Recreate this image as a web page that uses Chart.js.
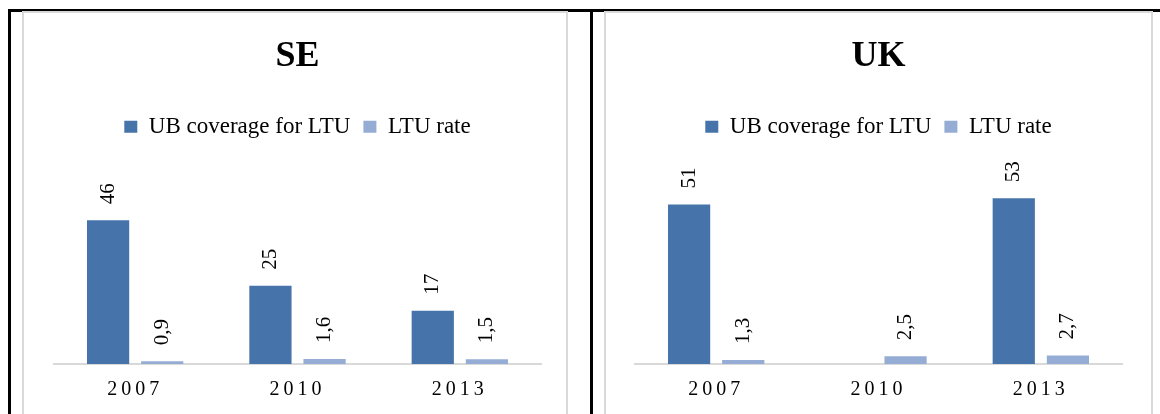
<!DOCTYPE html>
<html>
<head>
<meta charset="utf-8">
<script src="https://cdn.jsdelivr.net/npm/chart.js@4.4.1/dist/chart.umd.min.js"></script>
<style>
    body { margin: 0; background: #fff; width: 1160px; height: 414px; overflow: hidden; position: relative; }
    .line { position: absolute; background: #000; }
    .panel { position: absolute; top: 11px; height: 405px; box-sizing: border-box; border: 2px solid #d9d9d9; border-bottom: none; }
    .panel canvas { display: block; }
</style>
</head>
<body>
<div class="line" style="left:8px; top:9px; width:1152px; height:3px;"></div>
<div class="line" style="left:8px; top:9px; width:3px; height:405px;"></div>
<div class="line" style="left:590px; top:9px; width:3px; height:405px;"></div>

<div class="panel" style="left:22px; width:546px;"><canvas id="seChart" width="542" height="403"></canvas></div>
<div class="panel" style="left:604px; width:549px;"><canvas id="ukChart" width="545" height="403"></canvas></div>

<script>
var years = ['2007', '2010', '2013'];
var series_names = ['UB coverage for LTU', 'LTU rate'];

var se_coverage = [46, 25, 17];
var se_rate = [0.9, 1.6, 1.5];

var uk_coverage = [51, null, 53];
var uk_rate = [1.3, 2.5, 2.7];

var y_max = 69;

const barColors = ['#4674aa', '#95add4'];
const serif = "'Liberation Serif', 'DejaVu Serif', serif";

// numbers above the bars, turned on their side, comma as decimal sign
const valueLabels = {
    id: 'valueLabels',
    afterDatasetsDraw(chart) {
        const ctx = chart.ctx;
        chart.data.datasets.forEach((ds, i) => {
            const meta = chart.getDatasetMeta(i);
            meta.data.forEach((bar, j) => {
                const v = ds.data[j];
                if (v === null || v === undefined) return;
                ctx.save();
                ctx.translate(bar.x, bar.y - 16);
                ctx.rotate(-Math.PI / 2);
                ctx.font = '21px ' + serif;
                ctx.fillStyle = '#000';
                ctx.textAlign = 'left';
                ctx.textBaseline = 'middle';
                ctx.fillText(String(v).replace('.', ','), 0, 0);
                ctx.restore();
            });
        });
    }
};

// the year labels are spaced out in the original
const spacedTicks = {
    id: 'spacedTicks',
    beforeDraw(chart) {
        const sx = chart.scales.x;
        if (sx._spaced) return;
        const orig = sx.drawLabels;
        sx.drawLabels = function (area) {
            this.ctx.save();
            this.ctx.letterSpacing = '4px';
            orig.call(this, area);
            this.ctx.restore();
        };
        sx._spaced = true;
    }
};

function makeChart(ctx, cfg) {
    return new Chart(ctx, cfg);
}

function panelConfig(title, coverage, rate, padLeft, padRight) {
    return {
        type: 'bar',
        data: {
            labels: years,
            datasets: [
                { label: series_names[0], data: coverage, backgroundColor: barColors[0] },
                { label: series_names[1], data: rate, backgroundColor: barColors[1] }
            ]
        },
        options: {
            responsive: false,
            animation: false,
            categoryPercentage: 0.667,
            barPercentage: 0.78,
            layout: { padding: { left: padLeft, right: padRight, top: 0, bottom: 0 } },
            plugins: {
                title: {
                    display: true,
                    text: title,
                    color: '#000',
                    font: { family: serif, size: 36, weight: 'bold' },
                    padding: { top: 22, bottom: 24 }
                },
                legend: {
                    display: true,
                    labels: {
                        color: '#000',
                        font: { family: serif, size: 23 },
                        boxWidth: 13,
                        boxHeight: 12,
                        padding: 13
                    }
                },
                tooltip: { enabled: false }
            },
            scales: {
                x: {
                    grid: { display: false, drawTicks: false },
                    border: { display: true, color: '#d9d9d9', width: 2 },
                    ticks: { color: '#000', font: { family: serif, size: 20 }, padding: 14 }
                },
                y: { display: false, min: 0, max: y_max }
            }
        },
        plugins: [valueLabels, spacedTicks]
    };
}

function renderChart() {
    makeChart(document.getElementById('seChart').getContext('2d'), panelConfig('SE', se_coverage, se_rate, 30, 25));
    makeChart(document.getElementById('ukChart').getContext('2d'), panelConfig('UK', uk_coverage, uk_rate, 29, 29));
}

renderChart();
</script>
</body>
</html>
